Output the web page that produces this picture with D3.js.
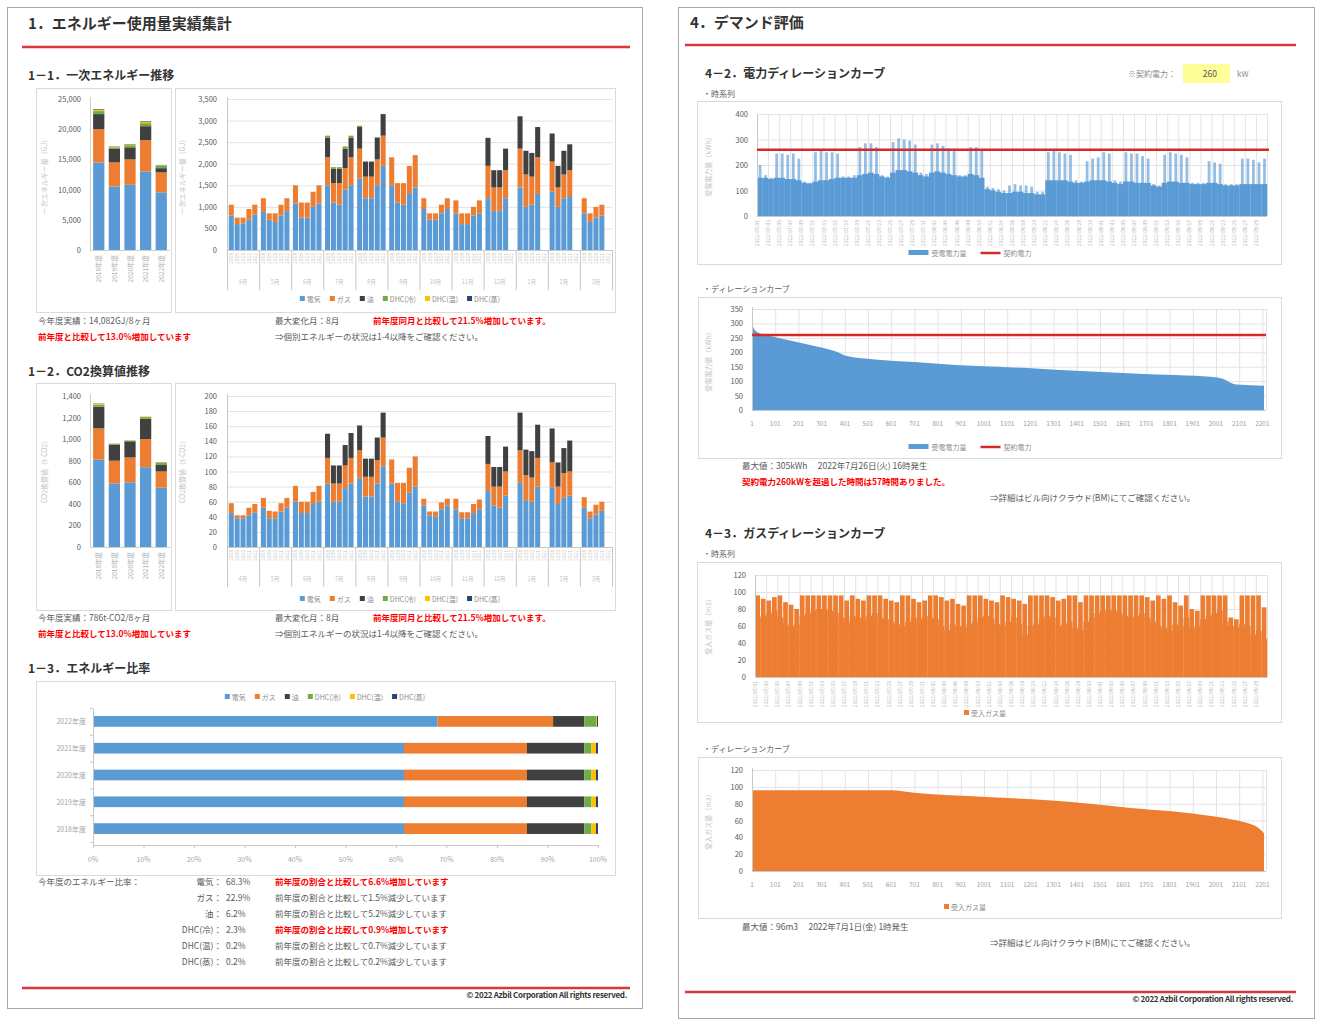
<!DOCTYPE html>
<html><head><meta charset="utf-8">
<script src="https://cdn.jsdelivr.net/npm/d3@7"></script>
<style>html,body{margin:0;padding:0;background:#fff;}svg{display:block;font-family:'Noto Sans CJK JP','Noto Sans',sans-serif;}</style>
</head><body><svg id="c" width="1324" height="1024"></svg>
<script>
// ---------------- DATA ----------------
const energyTypes = ["電気","ガス","油","DHC(冷)","DHC(温)","DHC(蒸)"];
const typeColors = ["#5B9BD5","#ED7D31","#404040","#70AD47","#FFC000","#264478"];
const fiscalYears = ["2018年度","2019年度","2020年度","2021年度","2022年度"];
const months = ["4月","5月","6月","7月","8月","9月","10月","11月","12月","1月","2月","3月"];

// 1-1 annual primary energy (GJ)
const energyAnnualElec = [14500,10500,10800,13000,9550];
const energyAnnualGas = [5500,4000,4200,5200,3300];
const energyAnnualOil = [2500,2300,2000,2300,700];
const energyAnnualDhcCold = [500,200,350,500,432];
const energyAnnualDhcWarm = [200,100,150,200,50];
const energyAnnualDhcSteam = [100,50,50,100,50];

// 1-1 monthly primary energy (GJ) [year][month]
const energyMonthlyElec = [
  [800,900,1080,1500,1650,1500,950,850,1200,1450,1350,850],
  [600,700,750,1100,1200,1100,700,600,900,1000,1000,650],
  [620,650,750,1050,1200,1050,700,600,900,1050,1200,750],
  [700,800,1000,1400,1500,1300,850,800,1200,1300,1250,800],
  [820,900,1080,1500,1950,1450,950,850,null,null,null,null]];
const energyMonthlyGas = [
  [250,300,420,650,700,650,250,300,750,900,700,350],
  [150,150,350,450,500,450,150,250,550,750,450,200],
  [130,200,350,500,500,500,150,250,550,650,550,250],
  [250,250,350,500,600,650,200,200,650,850,600,250],
  [230,300,420,650,700,750,250,300,null,null,null,null]];
const energyMonthlyOil = [
  [0,0,0,450,500,0,0,0,650,750,650,0],
  [0,0,0,330,350,0,0,0,400,550,500,0],
  [0,0,0,330,350,0,0,0,400,550,550,0],
  [0,0,0,450,500,0,0,0,500,700,600,0],
  [0,0,0,450,500,0,0,0,null,null,null,null]];
const energyMonthlyDhcCold = [
  [0,0,0,50,30,0,0,0,0,0,0,0],
  [0,0,0,40,0,0,0,0,0,0,0,0],
  [0,0,0,40,0,0,0,0,0,0,0,0],
  [0,0,0,50,20,0,0,0,0,0,0,0],
  [0,0,0,50,0,0,0,0,null,null,null,null]];

// 1-2 annual CO2 (t-CO2)
const co2AnnualElec = [810,590,600,740,550];
const co2AnnualGas = [290,210,230,260,150];
const co2AnnualOil = [200,150,150,190,60];
const co2AnnualDhcCold = [20,8,8,15,22];
const co2AnnualDhcWarm = [7,2,2,5,2];
const co2AnnualDhcSteam = [3,0,0,0,2];

// 1-2 monthly CO2 (t-CO2)
const co2MonthlyElec = [
  [45,52,60,84,91,84,55,50,74,85,79,52],
  [38,38,45,60,67,60,42,38,55,62,57,38],
  [38,38,45,60,67,58,40,38,52,60,65,43],
  [42,47,57,78,84,72,50,45,68,80,68,48],
  [46,52,60,84,107,80,55,50,null,null,null,null]];
const co2MonthlyGas = [
  [13,13,21,34,37,32,9,14,36,43,33,14],
  [4,10,15,24,26,25,5,8,25,33,23,9],
  [4,9,15,24,26,27,7,8,28,32,33,13],
  [10,11,16,30,31,33,9,12,32,38,32,12],
  [11,13,21,34,38,40,9,13,null,null,null,null]];
const co2MonthlyOil = [
  [0,0,0,32,33,0,0,0,37,50,45,0],
  [0,0,0,24,24,0,0,0,26,34,32,0],
  [0,0,0,24,24,0,0,0,26,35,33,0],
  [0,0,0,27,30,0,0,0,33,44,41,0],
  [0,0,0,33,33,0,0,0,null,null,null,null]];

// 1-3 energy ratio (%)
const ratioYears = ["2022年度","2021年度","2020年度","2019年度","2018年度"];
const ratioElec = [68.3,61.7,61.7,61.7,61.7];
const ratioGas = [22.9,24.4,24.4,24.4,24.4];
const ratioOil = [6.2,11.4,11.4,11.4,11.4];
const ratioDhcCold = [2.3,1.4,1.4,1.4,1.4];
const ratioDhcWarm = [0.2,0.9,0.9,0.9,0.9];
const ratioDhcSteam = [0.2,0.4,0.4,0.4,0.4];
const ratioMessages = [
  ["電気：","68.3%","前年度の割合と比較して6.6%増加しています",true],
  ["ガス：","22.9%","前年度の割合と比較して1.5%減少しています",false],
  ["油：","6.2%","前年度の割合と比較して5.2%減少しています",false],
  ["DHC(冷)：","2.3%","前年度の割合と比較して0.9%増加しています",true],
  ["DHC(温)：","0.2%","前年度の割合と比較して0.7%減少しています",false],
  ["DHC(蒸)：","0.2%","前年度の割合と比較して0.2%減少しています",false]];

// 4-2 electricity time series: daily night base and daytime peak (kWh), 2022/07/01 - 09/30
const contractPower = 260;
const elecDailyBase = [150,150,145,150,150,145,145,140,130,128, 135,140,140,145,150,150,150,150,160,165,
  170,165,155,150,170,180,180,175,170,160, 155,170,175,170,165,160,155,155,165,160,
  150,105,100,95,90,90,95,95,90,90, 85,85,140,140,140,140,135,130,130,135,
  140,140,140,135,130,125,135,135,130,130, 130,120,115,130,135,135,130,130,125,125,
  125,130,130,125,120,120,120,125,125,125, 125,125];
const elecDailyPeak = [200,160,150,245,245,240,245,225,135,130, 250,255,250,250,245,155,155,160,270,285,
  285,270,160,155,290,305,300,295,280,170, 165,280,285,275,265,255,160,160,270,270,
  255,115,110,105,100,120,125,120,120,115, 95,95,250,255,250,245,240,140,135,215,
  225,230,250,245,140,135,250,245,245,235, 225,125,120,240,250,245,240,230,130,130,
  130,215,210,205,125,125,125,225,225,220, 210,225];
const tsDateLabels = ["2022/07/01","2022/07/03","2022/07/05","2022/07/07","2022/07/09","2022/07/11","2022/07/13","2022/07/15",
  "2022/07/17","2022/07/19","2022/07/21","2022/07/23","2022/07/25","2022/07/27","2022/07/29","2022/07/31",
  "2022/08/02","2022/08/04","2022/08/06","2022/08/08","2022/08/10","2022/08/12","2022/08/14","2022/08/16",
  "2022/08/18","2022/08/20","2022/08/22","2022/08/24","2022/08/26","2022/08/28","2022/08/30",
  "2022/09/01","2022/09/03","2022/09/05","2022/09/07","2022/09/09","2022/09/11","2022/09/13","2022/09/15",
  "2022/09/17","2022/09/19","2022/09/21","2022/09/23","2022/09/25","2022/09/27","2022/09/29"];

// 4-2 electricity duration curve (rank, kWh)
const elecDurRank = [1,5,20,57,90,180,275,360,415,530,700,880,1060,1240,1420,1600,1780,1960,2030,2060,2090,2208];
const elecDurValue = [305,290,272,260,255,238,221,204,186,175,166,156,150,143,135,128,122,116,108,96,88,84];
const durTickLabels = ["1","101","201","301","401","501","601","701","801","901","1001","1101","1201","1301","1401","1501","1601","1701","1801","1901","2001","2101","2201"];

// 4-3 gas time series: daily max / min (m3)
const gasDailyMax = [96,92,90,94,96,88,85,80,96,96, 96,96,96,96,96,96,90,96,92,90,
  96,96,96,92,90,88,96,96,92,88, 90,96,96,94,90,92,86,84,96,96,
  96,92,90,88,96,94,92,90,86,96, 96,96,96,94,90,92,96,96,88,96,
  96,96,96,96,96,96,96,96,96,96, 94,90,96,92,96,88,84,96,80,78,
  96,96,96,96,96,70,68,96,96,96, 96,82];
const gasDailyMin = [70,72,75,78,70,62,60,62,72,75, 78,80,80,78,76,70,65,72,70,68,
  72,75,70,68,65,62,60,65,70,68, 72,70,68,60,55,62,60,58,62,65,
  70,72,68,62,60,65,70,62,50,60, 62,70,72,70,60,62,65,58,55,65,
  70,75,78,80,78,75,72,70,72,75, 70,65,60,58,55,62,60,70,58,60,
  68,72,75,78,65,60,58,62,60,50, 55,45];

// 4-3 gas duration curve (rank, m3)
const gasDurRank = [1,600,700,1011,1277,1455,1632,1810,1987,2076,2147,2180,2208];
const gasDurValue = [96,96,93,88,84,80,75,71,65,61,56,52,45];

// ---------------- DRAWING ----------------
const svg = d3.select("#c");
const GREY = "#595959", LGREY = "#a6a6a6", RED = "#ff0000", HEADRED = "#d9383a", GRID = "#e3e3e3";
svg.append("rect").attr("width",1324).attr("height",1024).attr("fill","#fff");

function text(x,y,str,o={}){
  const t = svg.append("text").attr("x",x).attr("y",y).text(str)
    .attr("font-size",o.size||9).attr("fill",o.color||GREY)
    .attr("font-weight",o.bold?"bold":"normal").attr("text-anchor",o.anchor||"start");
  if (o.ls!=null) t.attr("letter-spacing",o.ls);
  return t;
}
function line(x1,y1,x2,y2,stroke,w){ return svg.append("line").attr("x1",x1).attr("y1",y1).attr("x2",x2).attr("y2",y2).attr("stroke",stroke).attr("stroke-width",w||1); }
function frame(x,y,w,h){ svg.append("rect").attr("x",x+0.5).attr("y",y+0.5).attr("width",w).attr("height",h).attr("fill","#fff").attr("stroke","#dadada"); }
function yTitle(x,cy,str){ svg.append("text").attr("transform",`translate(${x},${cy}) rotate(-90)`).attr("text-anchor","middle").attr("font-size",7).attr("fill","#c4c4c4").text(str); }
function legend(cx,y,items,gap){
  gap = gap||9;
  const g = svg.append("g"); let cur = 0;
  items.forEach(it=>{
    if (it.type==="line"){ g.append("line").attr("x1",cur).attr("x2",cur+20).attr("y1",y-3).attr("y2",y-3).attr("stroke",it.color).attr("stroke-width",2.5); cur+=23; }
    else if (it.type==="wide"){ g.append("rect").attr("x",cur).attr("y",y-6).attr("width",20).attr("height",5).attr("fill",it.color); cur+=23; }
    else { g.append("rect").attr("x",cur).attr("y",y-6).attr("width",5).attr("height",5).attr("fill",it.color); cur+=7; }
    const t = g.append("text").attr("x",cur).attr("y",y).attr("font-size",7).attr("fill","#8c8c8c").text(it.label);
    cur += t.node().getComputedTextLength()+gap;
  });
  cur -= gap;
  g.attr("transform",`translate(${cx-cur/2},0)`);
}
const typeLegend = energyTypes.map((k,i)=>({label:k,color:typeColors[i]}));

// pages
svg.append("rect").attr("x",7.5).attr("y",7.5).attr("width",635).attr("height",1001).attr("fill","none").attr("stroke","#a8a8a8");
svg.append("rect").attr("x",678.5).attr("y",7.5).attr("width",636).attr("height",1011).attr("fill","none").attr("stroke","#a8a8a8");

function annualChart({x0,x1,y0,y1,max,step,series}){
  const y = d3.scaleLinear().domain([0,max]).range([y0,y1]);
  const x = d3.scaleBand().domain(fiscalYears).range([x0,x1]).paddingInner(0.28).paddingOuter(0.2);
  d3.range(0,max+1,step).forEach(v=>text(x0-9,y(v)+3,d3.format(",")(v),{size:7.5,anchor:"end"}));
  const rows = fiscalYears.map((fy,i)=>{const r={fy}; energyTypes.forEach((k,j)=>r[k]=series[j]?series[j][i]:0); return r;});
  const st = d3.stack().keys(energyTypes)(rows);
  st.forEach((layer,j)=>{
    svg.append("g").selectAll("rect").data(layer).join("rect")
      .attr("x",d=>x(d.data.fy)).attr("width",x.bandwidth())
      .attr("y",d=>y(d[1])).attr("height",d=>Math.max(0,y(d[0])-y(d[1]))).attr("fill",typeColors[j]);
  });
  line(x0+0.5,y1-2,x0+0.5,y0,"#d0d0d0");
  line(x0,y0+0.5,x1,y0+0.5,"#d0d0d0");
  fiscalYears.forEach(fy=>{
    const cx = x(fy)+x.bandwidth()/2+2.5;
    svg.append("text").attr("transform",`translate(${cx},${y0+5}) rotate(-90)`).attr("text-anchor","end")
      .attr("font-size",6.5).attr("fill","#b0b0b0").text(fy);
  });
}

function monthlyChart({x0,x1,y0,y1,max,step,series}){
  const y = d3.scaleLinear().domain([0,max]).range([y0,y1]);
  const xg = d3.scaleBand().domain(months).range([x0,x1]);
  const xi = d3.scaleBand().domain(fiscalYears).range([0,xg.bandwidth()]).paddingInner(0.14).paddingOuter(0.3);
  d3.range(0,max+1,step).forEach(v=>{
    if (v>0) line(x0,y(v)+0.5,x1,y(v)+0.5,GRID);
    text(x0-10,y(v)+3,d3.format(",")(v),{size:7.5,anchor:"end"});
  });
  const rows = [];
  fiscalYears.forEach((fy,i)=>months.forEach((m,k)=>{
    if (series[0][i][k]==null) return;
    const r = {fy,m}; energyTypes.forEach((key,j)=>r[key]= series[j] ? (series[j][i][k]||0) : 0); rows.push(r);
  }));
  const st = d3.stack().keys(energyTypes)(rows);
  st.forEach((layer,j)=>{
    svg.append("g").selectAll("rect").data(layer).join("rect")
      .attr("x",d=>xg(d.data.m)+xi(d.data.fy)).attr("width",xi.bandwidth())
      .attr("y",d=>y(d[1])).attr("height",d=>Math.max(0,y(d[0])-y(d[1]))).attr("fill",typeColors[j]);
  });
  line(x0+0.5,y1-2,x0+0.5,y0,"#c8c8c8");
  line(x0,y0+0.5,x1,y0+0.5,"#c8c8c8");
  months.concat(["end"]).forEach(m=>{
    const xx = m==="end" ? x1 : xg(m);
    line(xx+0.5,y0,xx+0.5,y0+40,"#c8c8c8");
  });
  months.forEach(m=>{
    fiscalYears.forEach(fy=>{
      const cx = xg(m)+xi(fy)+xi.bandwidth()/2+2;
      svg.append("text").attr("transform",`translate(${cx},${y0+3}) rotate(-90)`).attr("text-anchor","end")
        .attr("font-size",5).attr("fill","#c8c8c8").text(fy.slice(0,4));
    });
    text(xg(m)+xg.bandwidth()/2,y0+34,m,{size:5.5,color:"#c0c0c0",anchor:"middle"});
  });
}

// ---------- LEFT PAGE ----------
text(28,29,"1．エネルギー使用量実績集計",{size:15,bold:true,color:"#333"});
line(22,47,630,47,HEADRED,2.5);

text(28,80,"1－1．一次エネルギー推移",{size:12,bold:true,color:"#333"});
frame(36,88,135,224); frame(175,88,440,224);
annualChart({x0:90,x1:170,y0:250,y1:99,max:25000,step:5000,
  series:[energyAnnualElec,energyAnnualGas,energyAnnualOil,energyAnnualDhcCold,energyAnnualDhcWarm,energyAnnualDhcSteam]});
yTitle(47,175,"一次エネルギー量（GJ）");
monthlyChart({x0:227,x1:612,y0:250,y1:99,max:3500,step:500,
  series:[energyMonthlyElec,energyMonthlyGas,energyMonthlyOil,energyMonthlyDhcCold,null,null]});
yTitle(185,175,"一次エネルギー量（GJ）");
legend(400,302,typeLegend);
text(38,324,"今年度実績：14,082GJ/8ヶ月",{size:8.5});
text(38,340,"前年度と比較して13.0%増加しています",{size:8.5,color:RED,bold:true});
text(275,324,"最大変化月：8月",{size:8.5});
text(373,324,"前年度同月と比較して21.5%増加しています。",{size:8.5,color:RED,bold:true});
text(275,340,"⇒個別エネルギーの状況は1-4以降をご確認ください。",{size:8.5});

text(28,376,"1－2．CO2換算値推移",{size:12,bold:true,color:"#333"});
frame(36,383,135,227); frame(175,383,440,227);
annualChart({x0:90,x1:170,y0:547,y1:396,max:1400,step:200,
  series:[co2AnnualElec,co2AnnualGas,co2AnnualOil,co2AnnualDhcCold,co2AnnualDhcWarm,co2AnnualDhcSteam]});
yTitle(47,470,"CO2換算値（t-CO2）");
monthlyChart({x0:227,x1:612,y0:547,y1:396,max:200,step:20,
  series:[co2MonthlyElec,co2MonthlyGas,co2MonthlyOil,null,null,null]});
yTitle(185,470,"CO2換算値（t-CO2）");
legend(400,602,typeLegend);
text(38,621,"今年度実績：786t-CO2/8ヶ月",{size:8.5});
text(38,637,"前年度と比較して13.0%増加しています",{size:8.5,color:RED,bold:true});
text(275,621,"最大変化月：8月",{size:8.5});
text(373,621,"前年度同月と比較して21.5%増加しています。",{size:8.5,color:RED,bold:true});
text(275,637,"⇒個別エネルギーの状況は1-4以降をご確認ください。",{size:8.5});

text(28,673,"1－3．エネルギー比率",{size:12,bold:true,color:"#333"});
frame(36,681,579,194);
(function ratioChart(){
  const x = d3.scaleLinear().domain([0,1]).range([93,598]);
  const y = d3.scaleBand().domain(ratioYears).range([708,842]).paddingInner(0.6).paddingOuter(0.3);
  const series = [ratioElec,ratioGas,ratioOil,ratioDhcCold,ratioDhcWarm,ratioDhcSteam];
  const rows = ratioYears.map((ry,i)=>{const r={ry}; energyTypes.forEach((k,j)=>r[k]=series[j][i]); return r;});
  const st = d3.stack().keys(energyTypes).offset(d3.stackOffsetExpand)(rows);
  st.forEach((layer,j)=>{
    svg.append("g").selectAll("rect").data(layer).join("rect")
      .attr("x",d=>x(d[0])).attr("width",d=>Math.max(0,x(d[1])-x(d[0])))
      .attr("y",d=>y(d.data.ry)).attr("height",y.bandwidth()).attr("fill",typeColors[j]);
  });
  line(93.5,709,93.5,845,"#c8c8c8");
  line(93,845.5,598,845.5,"#c8c8c8");
  const step = y.step();
  d3.range(0,6).forEach(i=>line(90,708+i*step+0.5,93,708+i*step+0.5,"#c8c8c8"));
  d3.range(0,1.0001,0.1).forEach(v=>{
    line(x(v)+0.5,845,x(v)+0.5,848,"#c8c8c8");
    text(x(v),862,d3.format(".0%")(v),{size:7,color:LGREY,anchor:"middle"});
  });
  ratioYears.forEach(ry=>text(86,y(ry)+y.bandwidth()/2+3,ry,{size:7,color:LGREY,anchor:"end"}));
})();
legend(325,700,typeLegend);

text(38,885,"今年度のエネルギー比率：",{size:8.5});
ratioMessages.forEach((r,i)=>{
  const yy = 885+i*16;
  text(222,yy,r[0],{size:8.5,anchor:"end"});
  text(226,yy,r[1],{size:8.5});
  text(275,yy,r[2],{size:8.5,color:r[3]?RED:GREY,bold:r[3]});
});

line(22,988,630,988,HEADRED,2.5);
text(627,998,"© 2022 Azbil Corporation All rights reserved.",{size:8,bold:true,color:"#333",anchor:"end",ls:-0.3});

// ---------- RIGHT PAGE ----------
text(690,28,"4．デマンド評価",{size:15,bold:true,color:"#333"});
line(685,45,1296,45,HEADRED,2.5);

text(705,78,"4－2．電力ディレーションカーブ",{size:12,bold:true,color:"#333"});
text(1176,77,"※契約電力：",{size:8,anchor:"end",color:"#8c8c8c"});
svg.append("rect").attr("x",1183).attr("y",64).attr("width",47).attr("height",19).attr("fill","#ffff99");
text(1217,77,String(contractPower),{size:8.5,anchor:"end",color:"#555"});
text(1237,77,"kW",{size:8,color:"#8c8c8c"});
text(703,97,"・時系列",{size:8});
frame(697,101,584,163);

function dailyTs({x0,x1,y0,y1,max,step,lows,highs,color,hiStart,hiEnd,hiOpacity,labelY}){
  const nDays = lows.length;
  const x = d3.scaleLinear().domain([0,nDays]).range([x0,x1]);
  const y = d3.scaleLinear().domain([0,max]).range([y0,y1]);
  tsDateLabels.forEach((lab,k)=>line(x(2*k)+0.5,y1,x(2*k)+0.5,y0,GRID));
  line(x1+0.5,y1,x1+0.5,y0,GRID);
  d3.range(0,max+1,step).forEach(v=>{
    if (v>0) line(x0,y(v)+0.5,x1,y(v)+0.5,GRID);
    text(x0-9,y(v)+3,String(v),{size:7.5,anchor:"end"});
  });
  const g = svg.append("g");
  g.selectAll("rect.lo").data(lows).join("rect").attr("class","lo")
    .attr("x",(d,i)=>x(i)).attr("width",(d,i)=>x(i+1)-x(i)+0.2)
    .attr("y",d=>y(d)).attr("height",d=>y0-y(d)).attr("fill",color);
  g.selectAll("rect.hi").data(highs).join("rect").attr("class","hi")
    .attr("x",(d,i)=>x(i+hiStart)).attr("width",(d,i)=>x(i+hiEnd)-x(i+hiStart))
    .attr("y",d=>y(d)).attr("height",d=>y0-y(d)).attr("fill",color).attr("fill-opacity",hiOpacity);
  line(x0+0.5,y1,x0+0.5,y0,"#c8c8c8");
  line(x0,y0+0.5,x1,y0+0.5,"#c8c8c8");
  tsDateLabels.forEach((lab,k)=>{
    svg.append("text").attr("transform",`translate(${x(2*k)+2},${labelY}) rotate(-90)`).attr("text-anchor","end")
      .attr("font-size",5).attr("fill","#b5b5b5").text(lab);
  });
  return {x,y};
}
const ets = dailyTs({x0:757,x1:1267,y0:216,y1:114,max:400,step:100,lows:elecDailyBase,highs:elecDailyPeak,
  color:"#5B9BD5",hiStart:0.3,hiEnd:0.8,hiOpacity:0.65,labelY:220});
line(757,ets.y(contractPower),1269,ets.y(contractPower),"#d42a2a",2.5);
yTitle(711,165,"受電電力量（kWh）");
legend(970,256,[{type:"wide",label:"受電電力量",color:"#5B9BD5"},{type:"line",label:"契約電力",color:"#d42a2a"}],14);

text(703,292,"・ディレーションカーブ",{size:8});
frame(698,297,583,161);

function durationChart({y0,y1,max,step,ranks,values,color}){
  const x = d3.scaleLinear().domain([1,2208]).range([752,1264]);
  const y = d3.scaleLinear().domain([0,max]).range([y0,y1]);
  durTickLabels.forEach(l=>line(x(+l)+0.5,y1,x(+l)+0.5,y0,GRID));
  line(1266.5,y1,1266.5,y0,GRID);
  d3.range(0,max+1,step).forEach(v=>{
    if (v>0) line(752,y(v)+0.5,1266,y(v)+0.5,GRID);
    text(743,y(v)+3,String(v),{size:7.5,anchor:"end"});
  });
  const pts = ranks.map((r,i)=>[r,values[i]]);
  const area = d3.area().x(d=>x(d[0])).y0(y0).y1(d=>y(d[1])).curve(d3.curveMonotoneX);
  svg.append("path").attr("d",area(pts)).attr("fill",color);
  line(752.5,y1-2,752.5,y0,"#c8c8c8");
  line(752,y0+0.5,1266,y0+0.5,"#c8c8c8");
  durTickLabels.forEach(l=>text(x(+l),y0+16,l,{size:6.5,color:"#a0a0a0",anchor:"middle"}));
  return {x,y};
}
const edc = durationChart({y0:410,y1:309,max:350,step:50,ranks:elecDurRank,values:elecDurValue,color:"#5B9BD5"});
line(752,edc.y(contractPower),1266,edc.y(contractPower),"#d42a2a",2.5);
yTitle(711,360,"受電電力量（kWh）");
legend(970,450,[{type:"wide",label:"受電電力量",color:"#5B9BD5"},{type:"line",label:"契約電力",color:"#d42a2a"}],14);
text(742,469,"最大値：305kWh　 2022年7月26日(火) 16時発生",{size:8.5});
text(742,485,"契約電力260kWを超過した時間は57時間ありました。",{size:8.5,color:RED,bold:true});
text(990,501,"⇒詳細はビル向けクラウド(BM)にてご確認ください。",{size:8.5});

text(705,538,"4－3．ガスディレーションカーブ",{size:12,bold:true,color:"#333"});
text(703,557,"・時系列",{size:8});
frame(697,562,584,160);
dailyTs({x0:755,x1:1267,y0:677,y1:575,max:120,step:20,lows:gasDailyMin,highs:gasDailyMax,
  color:"#ED7D31",hiStart:0.06,hiEnd:0.9,hiOpacity:1,labelY:681});
yTitle(711,625,"受入ガス量（m3）");
legend(985,716,[{label:"受入ガス量",color:"#ED7D31"}]);

text(703,752,"・ディレーションカーブ",{size:8});
frame(698,757,583,161);
durationChart({y0:871,y1:770,max:120,step:20,ranks:gasDurRank,values:gasDurValue,color:"#ED7D31"});
yTitle(711,820,"受入ガス量（m3）");
legend(965,910,[{label:"受入ガス量",color:"#ED7D31"}]);
text(742,930,"最大値：96m3　 2022年7月1日(金) 1時発生",{size:8.5});
text(990,946,"⇒詳細はビル向けクラウド(BM)にてご確認ください。",{size:8.5});

line(685,992,1296,992,HEADRED,2.5);
text(1293,1002,"© 2022 Azbil Corporation All rights reserved.",{size:8,bold:true,color:"#333",anchor:"end",ls:-0.3});
</script></body></html>
